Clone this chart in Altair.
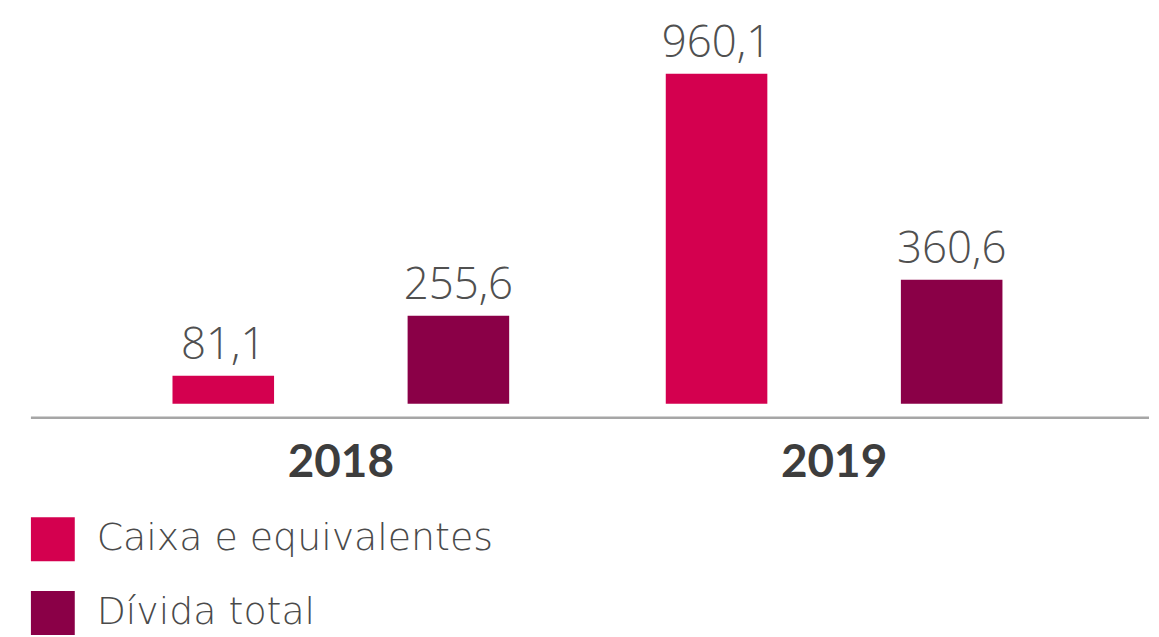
import altair as alt
import pandas as pd

years = ["2018", "2019"]
series = ["Caixa e equivalentes", "Dívida total"]
caixa = [81.1, 960.1]
divida = [255.6, 360.6]
colors = ["#D4004F", "#8A0047"]

rows = []
for i, y in enumerate(years):
    for s, vals in zip(series, [caixa, divida]):
        rows.append({"ano": y, "serie": s, "valor": vals[i],
                     "rotulo": f"{vals[i]:.1f}".replace(".", ",")})
df = pd.DataFrame(rows)

W = 1122
H = 396

x = alt.X("ano:N",
          scale=alt.Scale(domain=years, range=[63.5, 1053.5], paddingInner=0, paddingOuter=0),
          axis=alt.Axis(title=None, domain=False, ticks=False, tickSize=0, labelAngle=0,
                        labelFontSize=46, labelFont="Lato", labelFontWeight="bold",
                        labelColor="#3d3d3d", labelBaseline="alphabetic", labelPadding=73))
xo = alt.XOffset("serie:N", scale=alt.Scale(domain=series, paddingInner=0.568, paddingOuter=0.333))
y = alt.Y("valor:Q", scale=alt.Scale(domain=[0, 1148], nice=False), axis=None)

bars = alt.Chart(df).mark_bar().encode(
    x=x, xOffset=xo, y=y,
    color=alt.Color("serie:N", scale=alt.Scale(domain=series, range=colors),
                    legend=alt.Legend(title=None, orient="none", legendX=0, legendY=510,
                                      direction="vertical", symbolType="square",
                                      symbolSize=1936, symbolStrokeWidth=0, symbolOpacity=1,
                                      labelFontSize=38, labelFont="DejaVu Sans", labelFontWeight=200,
                                      labelColor="#4a4a4a", rowPadding=30, labelOffset=22,
                                      labelLimit=600))
)

labels = alt.Chart(df).mark_text(baseline="alphabetic", dy=-17, fontSize=44, font="Open Sans",
                                 fontWeight=300, color="#505050").encode(
    x=x, xOffset=xo, y=y, text="rotulo:N"
)

rule_df = pd.DataFrame({"k": [0]})
rule = alt.Chart(rule_df).mark_rule(color="#a6a6a6", strokeWidth=2.5).encode(
    x=alt.value(0), x2=alt.value(W), y=alt.value(H + 14)
)

chart = alt.layer(bars, labels, rule).properties(
    width=W, height=H, background="white",
    padding={"left": 21, "top": 0, "right": 0, "bottom": 0}
).configure_view(strokeWidth=0, stroke=None)

chart.save("out.html", embed_options={"renderer": "svg", "actions": False})
